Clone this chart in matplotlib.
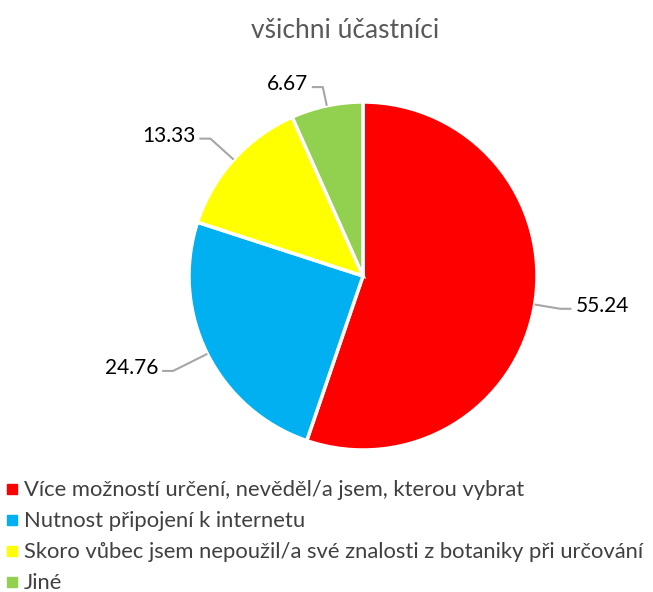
import numpy as np
import matplotlib.pyplot as plt
from matplotlib.lines import Line2D

## Data
categories = [
    "Více možností určení, nevěděl/a jsem, kterou vybrat",
    "Nutnost připojení k internetu",
    "Skoro vůbec jsem nepoužil/a své znalosti z botaniky při určování",
    "Jiné",
]
values = [55.24, 24.76, 13.33, 6.67]
colors = ["#ff0000", "#00b0f0", "#ffff00", "#92d050"]
title = "všichni účastníci"

plt.rcParams['font.family'] = ['Lato', 'DejaVu Sans']

W, H = 653, 592
fig = plt.figure(figsize=(W / 100, H / 100), dpi=100)
ax = fig.add_axes([0, 0, 1, 1])
ax.set_xlim(0, W)
ax.set_ylim(0, H)
ax.set_aspect('equal')
ax.axis('off')

cx, cy, r = 363, H - 276, 174
wedges, _ = ax.pie(values, colors=colors, startangle=90, counterclock=False,
                   center=(cx, cy), radius=r, frame=False,
                   wedgeprops=dict(edgecolor='white', linewidth=2.5))
ax.set_xlim(0, W)
ax.set_ylim(0, H)

# leader lines + labels (elbow radius per label, like Excel best fit)
elbow_r = [1.15, 1.22, 1.18, 1.11]
for w, v, er in zip(wedges, values, elbow_r):
    ang = np.deg2rad((w.theta1 + w.theta2) / 2)
    x0, y0 = cx + r * np.cos(ang), cy + r * np.sin(ang)
    x1, y1 = cx + r * er * np.cos(ang), cy + r * er * np.sin(ang)
    side = 1 if np.cos(ang) > 0 else -1
    x2 = x1 + side * 11
    ax.plot([x0, x1, x2], [y0, y1, y1], color='#a6a6a6', lw=1.5,
            solid_capstyle='butt', zorder=3)
    ax.text(x2 + side * 4, y1 + 3, f"{v:.2f}", fontsize=15,
            ha='left' if side > 0 else 'right', va='center', color='black')

fig.text(0.528, 1 - 30 / H, title, fontsize=19, color='#595959',
         ha='center', va='center')

handles = [Line2D([], [], marker='s', ls='', markersize=7,
                  markerfacecolor=c, markeredgecolor=c) for c in colors]
fig.legend(handles, categories, loc='upper left',
           bbox_to_anchor=(0.003, 1 - 476 / H), frameon=False, fontsize=15.8,
           labelcolor='#404040', handlelength=0.5, handletextpad=0.3,
           labelspacing=0.5, borderaxespad=0.0, borderpad=0.2)

plt.savefig("out.png", dpi=100)
